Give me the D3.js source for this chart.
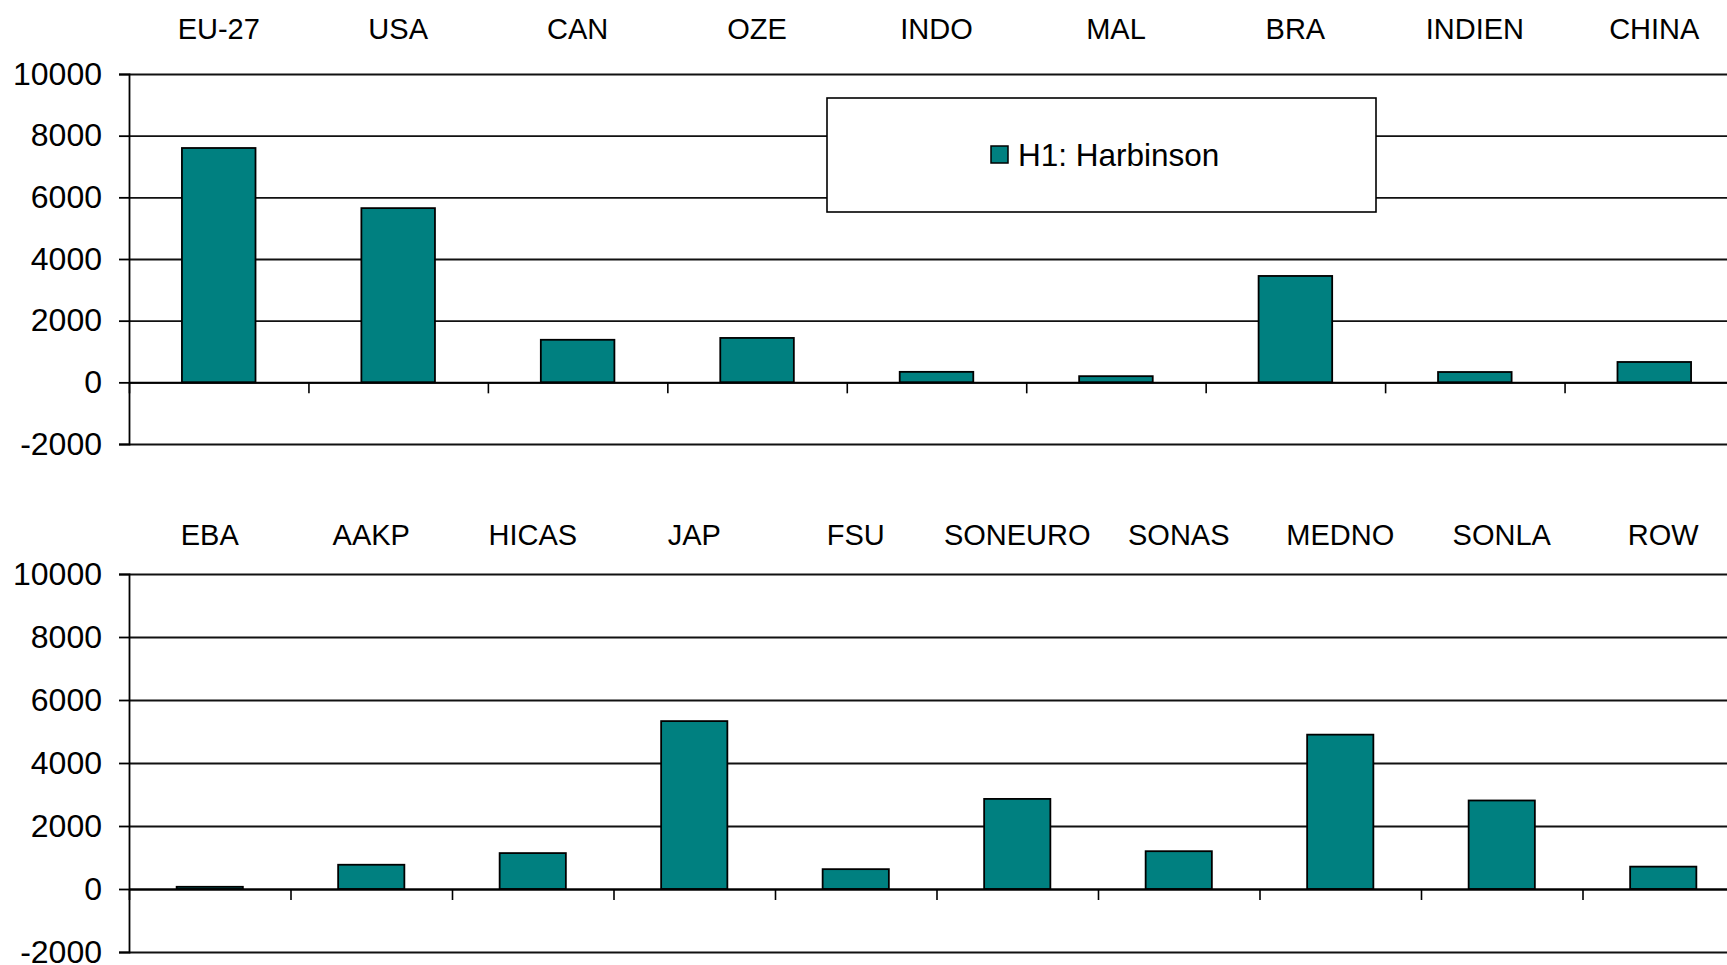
<!DOCTYPE html>
<html><head><meta charset="utf-8">
<script src="https://cdn.jsdelivr.net/npm/d3@7"></script>
<style>
html,body{margin:0;padding:0;background:#fff;overflow:hidden}
text{font-family:"Liberation Sans",Arial,sans-serif;fill:#000}
</style></head>
<body>
<svg id="c" width="1727" height="965"></svg>
<script>
const topCategories = ["EU-27","USA","CAN","OZE","INDO","MAL","BRA","INDIEN","CHINA"];
const topValues = [7600, 5650, 1380, 1440, 340, 200, 3450, 335, 660];
const bottomCategories = ["EBA","AAKP","HICAS","JAP","FSU","SONEURO","SONAS","MEDNO","SONLA","ROW"];
const bottomValues = [70, 770, 1140, 5330, 630, 2860, 1200, 4900, 2810, 710];
const yTicks = [-2000, 0, 2000, 4000, 6000, 8000, 10000];
const seriesName = "H1: Harbinson";

const svg = d3.select("#c");
const X0 = 129, X1 = 1744;
const FS = 29;

function panel(cats, vals, yMaxPx, yMinPx, labelY, legend) {
  const g = svg.append("g");
  const y = d3.scaleLinear().domain([-2000, 10000]).range([yMinPx, yMaxPx]);
  const xb = d3.scaleBand().domain(cats).range([X0, X1]).paddingInner(0.59).paddingOuter(0.295);
  const xl = d3.scaleLinear().domain([0, cats.length]).range([X0, X1]);

  const grid = g.append("g").attr("transform", `translate(${X0},0)`)
    .call(d3.axisLeft(y).tickValues(yTicks).tickSize(-(X1 - X0)).tickFormat(""));
  grid.select(".domain").remove();
  grid.selectAll("line").attr("stroke", "#111").attr("stroke-width", 1.8);

  if (legend) {
    const lg = g.append("g");
    lg.append("rect").attr("x", legend.x).attr("y", legend.y).attr("width", legend.w).attr("height", legend.h)
      .attr("fill", "#fff").attr("stroke", "#000").attr("stroke-width", 1.6);
    lg.append("rect").attr("x", legend.x + 164).attr("y", legend.y + legend.h / 2 - 9).attr("width", 17).attr("height", 17)
      .attr("fill", "#008080").attr("stroke", "#000").attr("stroke-width", 1.5);
    lg.append("text").attr("x", legend.x + 191).attr("y", legend.y + legend.h / 2)
      .attr("dy", "0.36em").attr("font-size", 31.5).text(seriesName);
  }

  g.append("g").selectAll("rect").data(cats).join("rect")
    .attr("x", d => xb(d))
    .attr("width", xb.bandwidth())
    .attr("y", (d, i) => y(Math.max(0, vals[i])))
    .attr("height", (d, i) => Math.abs(y(vals[i]) - y(0)))
    .attr("fill", "#008080").attr("stroke", "#000").attr("stroke-width", 1.8);

  const ya = g.append("g").attr("transform", `translate(${X0},0)`)
    .call(d3.axisLeft(y).tickValues(yTicks).tickSize(10).tickPadding(17).tickFormat(d => String(d)));
  ya.selectAll("text").attr("font-size", 32).attr("font-family", '"Liberation Sans",Arial,sans-serif');
  ya.selectAll("line").attr("stroke", "#000").attr("stroke-width", 1.8);
  ya.select(".domain").attr("stroke", "#000").attr("stroke-width", 1.8);

  const xa = g.append("g").attr("transform", `translate(0,${y(0)})`)
    .call(d3.axisBottom(xl).tickValues(d3.range(0, cats.length)).tickSize(11).tickSizeOuter(0).tickFormat(""));
  xa.selectAll("line").attr("stroke", "#000").attr("stroke-width", 1.6);
  xa.select(".domain").attr("stroke", "#000").attr("stroke-width", 2);

  const ca = g.append("g").attr("transform", `translate(0,${labelY})`)
    .call(d3.axisTop(xb).tickSize(0).tickPadding(0));
  ca.select(".domain").remove();
  ca.selectAll("text").attr("font-size", FS).attr("font-family", '"Liberation Sans",Arial,sans-serif');
}

panel(topCategories, topValues, 74, 444, 39, {x: 827, y: 98, w: 549, h: 114});
panel(bottomCategories, bottomValues, 574, 952, 545, null);
</script>
</body></html>
